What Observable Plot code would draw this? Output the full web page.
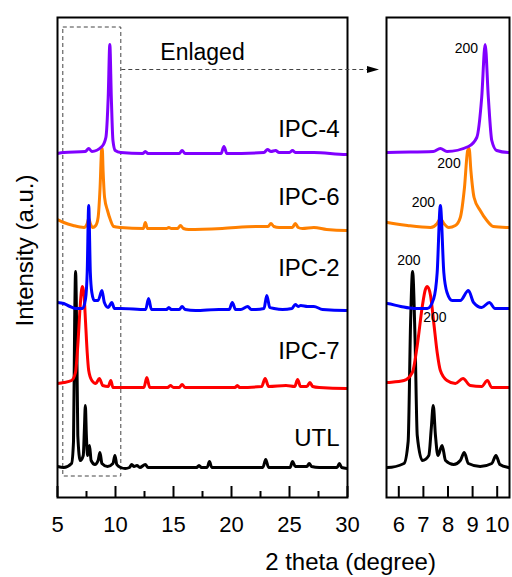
<!DOCTYPE html>
<html><head><meta charset="utf-8">
<script src="https://cdn.jsdelivr.net/npm/d3@7"></script>
<script src="https://cdn.jsdelivr.net/npm/@observablehq/plot@0.6"></script>
<style>
html,body{margin:0;padding:0;background:#fff;}
#chart{position:relative;width:512px;height:577px;font-family:Arial,"Liberation Sans",sans-serif;}
#chart svg{position:absolute;top:0;overflow:visible;}
</style></head><body><div id="chart"></div>
<script>
// ---- data: [2theta (degree), intensity above the series' own baseline (a.u.)] ----
const utl = [[5.0,1],[5.54,0],[6.21,4],[6.38,26],[6.48,146],[6.56,196],[6.66,129],[6.75,32],[6.96,7],[7.22,12],[7.32,39],[7.40,62],[7.49,32],[7.59,12],[7.76,22],[7.90,7],[8.23,3],[8.50,7],[8.66,15],[8.83,4],[9.31,1],[9.78,4],[9.95,12],[10.11,3],[10.45,0],[10.84,-1],[11.2,0],[11.4,3],[11.6,1],[11.85,2],[12.1,0],[12.57,3],[12.8,0],[14.88,0],[16.0,0],[17.0,0],[17.2,2],[17.4,0],[17.9,0],[18.1,6],[18.3,0],[19.8,0],[20.9,0],[22.7,0],[22.95,8],[23.2,0],[24.7,0],[25.05,0],[25.26,6],[25.5,1],[25.83,1],[26.5,1],[26.7,4],[26.9,1],[27.56,0],[29.1,0],[29.3,4],[29.5,0],[30,-1]];
const ipc7 = [[5.0,4],[5.54,5],[6.21,7],[6.55,15],[6.75,42],[6.96,82],[7.08,98],[7.16,101],[7.29,92],[7.42,65],[7.56,35],[7.69,17],[7.96,7],[8.30,4],[8.61,9],[8.90,2],[9.37,1],[9.60,7],[9.78,0],[10.45,0],[12.45,0],[12.7,10],[12.95,0],[14.5,0],[14.73,2],[15.0,0],[15.5,0],[15.74,3],[16.0,0],[20.3,0],[20.5,2],[20.7,0],[22.6,1],[22.9,9],[23.2,1],[24.7,2],[25.45,1],[25.7,8],[25.95,1],[26.5,1],[26.76,5],[27.0,1],[27.56,0],[29.87,-1],[30,-1]];
const ipc2 = [[5.0,8],[5.54,7],[6.08,4],[6.62,2],[7.16,2],[7.42,12],[7.56,38],[7.69,105],[7.83,38],[7.96,18],[8.17,10],[8.50,10],[8.83,20],[9.04,8],[9.37,3],[9.68,8],[9.91,2],[10.45,2],[12.6,1],[12.85,12],[13.1,1],[14.4,1],[14.6,3],[14.8,1],[15.5,1],[15.74,4],[16.0,1],[16.9,0],[18.9,1],[19.8,1],[20.07,8],[20.35,1],[20.8,1],[21.4,4],[21.7,1],[22.1,1],[22.8,2],[23.04,15],[23.3,3],[23.67,2],[24.4,1],[25.2,2],[25.5,6],[25.75,4],[25.97,5],[26.56,4],[27.1,4],[27.85,1],[29.87,0],[30,0]];
const ipc6 = [[5.0,9],[5.54,6],[6.35,3],[7.29,1],[7.56,5],[7.69,10],[7.83,5],[8.03,1],[8.30,3],[8.50,11],[8.67,41],[8.80,78],[8.86,80],[8.93,58],[9.06,31],[9.31,18],[9.58,8],[9.84,2],[10.45,1],[12.4,0],[12.57,6],[12.75,0],[14.4,0],[14.6,1],[14.8,0],[15.35,0],[15.6,3],[15.85,0],[16.3,-1],[19.2,0],[22.1,2],[23.15,2],[23.4,5],[23.65,2],[24.1,1],[25.25,1],[25.5,5],[25.75,1],[26.1,0],[27.1,1],[28.2,-1],[29.9,-2],[30,-2]];
const ipc4 = [[5.0,0],[5.54,1],[7.4,2],[7.69,5],[7.96,2],[8.83,7],[9.17,16],[9.37,56],[9.51,109],[9.64,56],[9.78,13],[9.98,3],[10.45,1],[12.35,0],[12.57,2],[12.8,0],[15.5,0],[15.74,3],[16.0,0],[19.1,0],[19.35,7],[19.6,0],[22.8,1],[23.1,4],[23.4,2],[23.8,3],[24.1,1],[25.0,1],[25.26,3],[25.5,1],[27.1,1],[29.9,-1],[30,-1]];

const names   = ["UTL","IPC-7","IPC-2","IPC-6","IPC-4"];
const series  = [utl, ipc7, ipc2, ipc6, ipc4];
const offsets = [0, 80, 157, 239, 314];          // vertical stacking offsets (a.u.)
const colors  = ["#000000","#ff0000","#0000ff","#ff8000","#8000ff"];
const labelY  = [29, 116, 199, 270, 338];        // series name labels (a.u.)
const drawOrder = ["IPC-6","UTL","IPC-7","IPC-2","IPC-4"];

const peakText   = ["200","200","200","200","200"];
const peakLabelX = [6.41, 7.47, 7.0, 8.04, 8.75];
const peakLabelY = [207, 150, 265, 304, 419];

const leftMajor  = [5,10,15,20,25,30];
const leftMinor  = [7.5,12.5,17.5,22.5,27.5];
const rightMajor = [6,7,8,9,10];
const zoomDomain = [5.5, 10.5];
const yDomain = [-30, 450];

const rows = names.flatMap((name, i) => series[i].map(([t, v]) => ({name, t, y: v + offsets[i]})));
const colorOf = n => colors[names.indexOf(n)];
const lineMarks = () => drawOrder.map(n => Plot.line(rows.filter(r => r.name === n), {
  x: "t", y: "y", stroke: colorOf(n), strokeWidth: 3, curve: "monotone-x", clip: true, strokeLinejoin: "round"
}));
const font = 'Arial, "Liberation Sans", sans-serif';
const arrowHead = {draw(ctx) { ctx.moveTo(6, 0); ctx.lineTo(-6, -3.5); ctx.lineTo(-6, 3.5); ctx.closePath(); }};
const intFmt = d => String(d);

const left = Plot.plot({
  width: 386, height: 577, marginLeft: 57, marginRight: 39, marginTop: 17, marginBottom: 80,
  x: {domain: [5, 30]}, y: {domain: yDomain, axis: null},
  style: {fontFamily: font, background: "transparent", color: "black", overflow: "visible"},
  marks: [
    Plot.rect([zoomDomain], {x1: d => d[0], x2: d => d[1], insetTop: 10, insetBottom: 21,
      fill: "none", stroke: "#444", strokeWidth: 1, strokeDasharray: "4,3"}),
    ...lineMarks(),
    Plot.frame({stroke: "black", strokeWidth: 2}),
    Plot.ruleX(leftMajor, {y1: yDomain[0], y2: yDomain[0] + 11, strokeWidth: 2}),
    Plot.ruleX(leftMinor, {y1: yDomain[0], y2: yDomain[0] + 6, strokeWidth: 2}),
    Plot.axisX({ticks: leftMajor, tickFormat: intFmt, tickSize: 0, tickPadding: 19, fontSize: 22, label: null}),
    Plot.text(names, {text: d => d, y: (d, i) => labelY[i], frameAnchor: "right", dx: -8, textAnchor: "end", lineAnchor: "middle", fontSize: 24}),
    Plot.link([0], {x1: zoomDomain[1], x2: 31.7, y1: 398, y2: 398, stroke: "#444", strokeWidth: 1, strokeDasharray: "4,3"}),
    Plot.dot([0], {x: 32.2, y: 398, symbol: arrowHead, fill: "black", stroke: "none"}),
    Plot.text(["Enlaged"], {text: d => d, x: 17.5, y: 415, fontSize: 23}),
    Plot.text(["Intensity (a.u.)"], {text: d => d, frameAnchor: "left", textAnchor: "middle", lineAnchor: "middle", rotate: -90, dx: -32, dy: -7, fontSize: 24}),
    Plot.text(["2 theta (degree)"], {text: d => d, x: 30.26, frameAnchor: "bottom", textAnchor: "middle", lineAnchor: "middle", dy: 65, fontSize: 24})
  ]
});
left.style.left = "0px";

const right = Plot.plot({
  width: 142, height: 577, marginLeft: 16, marginRight: 3, marginTop: 17, marginBottom: 80,
  x: {domain: zoomDomain}, y: {domain: yDomain, axis: null},
  style: {fontFamily: font, background: "transparent", color: "black", overflow: "visible"},
  marks: [
    ...lineMarks(),
    Plot.frame({stroke: "black", strokeWidth: 2}),
    Plot.ruleX(rightMajor, {y1: yDomain[0], y2: yDomain[0] + 11, strokeWidth: 2}),
    Plot.axisX({ticks: rightMajor, tickFormat: intFmt, tickSize: 0, tickPadding: 19, fontSize: 22, label: null}),
    Plot.text(peakText, {text: d => d, x: (d, i) => peakLabelX[i], y: (d, i) => peakLabelY[i], fontSize: 14})
  ]
});
right.style.left = "370px";

document.getElementById("chart").append(left, right);
</script></body></html>
